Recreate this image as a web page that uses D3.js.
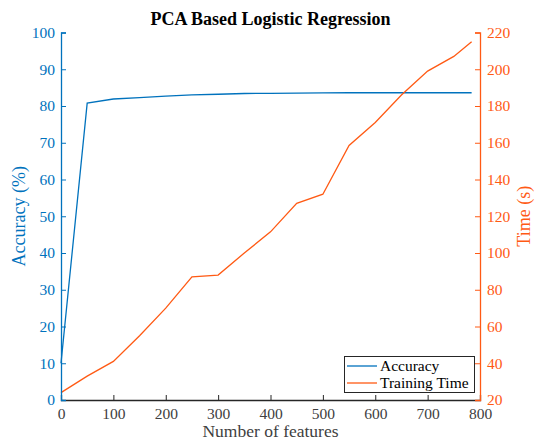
<!DOCTYPE html>
<html><head><meta charset="utf-8">
<script src="https://cdn.jsdelivr.net/npm/d3@7"></script>
<style>body{margin:0;background:#fff}svg{display:block}</style>
</head><body><svg id="c" width="535" height="441"></svg>
<script>
const features = [0,50,100,150,200,250,300,350,400,450,500,550,600,650,700,750,784];
const accuracy = [10,80.8,81.9,82.3,82.7,83.0,83.2,83.4,83.45,83.5,83.55,83.6,83.6,83.6,83.6,83.6,83.6];
const trainTime = [24,33,41,55,70,87,88,100,111.5,127,132,158.5,171,186,199,207,215];
const xTicks = [0,100,200,300,400,500,600,700,800];
const accTicks = [0,10,20,30,40,50,60,70,80,90,100];
const timeTicks = [20,40,60,80,100,120,140,160,180,200,220];
const title = "PCA Based Logistic Regression";
const xLabel = "Number of features";
const accLabel = "Accuracy (%)";
const timeLabel = "Time (s)";
const seriesNames = ["Accuracy","Training Time"];

const FONT = "'Liberation Serif', 'Times New Roman', serif";
const blue = "#0072BD", orange = "#FF5A14", dark = "#262626";
const L = 61, R = 480, T = 32.5, B = 400;
const svg = d3.select("#c").attr("font-family", FONT);
const x = d3.scaleLinear().domain([0,800]).range([L,R]);
const yA = d3.scaleLinear().domain([0,100]).range([B,T]);
const yT = d3.scaleLinear().domain([20,220]).range([B,T]);

// lines
svg.append("path").datum(features.map((f,i)=>[f,accuracy[i]]))
  .attr("fill","none").attr("stroke",blue).attr("stroke-width",1.3)
  .attr("d", d3.line().x(d=>x(d[0])).y(d=>yA(d[1])));
svg.append("path").datum(features.map((f,i)=>[f,trainTime[i]]))
  .attr("fill","none").attr("stroke",orange).attr("stroke-width",1.3)
  .attr("d", d3.line().x(d=>x(d[0])).y(d=>yT(d[1])));

// axes
function style(g, col, tcol){
  g.attr("font-family", FONT).attr("font-size", 15);
  g.select(".domain").attr("stroke",col).attr("stroke-width",1.3);
  g.selectAll(".tick line").attr("stroke",col);
  g.selectAll("text").attr("fill",tcol).attr("font-family",FONT).attr("font-size",15.5);
}
const gx = svg.append("g").attr("transform",`translate(0,${B})`)
  .call(d3.axisBottom(x).tickValues(xTicks).tickSize(-5).tickPadding(8).tickFormat(d3.format("d")));
style(gx, dark, "#404040");
const gl = svg.append("g").attr("transform",`translate(${L},0)`)
  .call(d3.axisLeft(yA).tickValues(accTicks).tickSize(-5).tickPadding(6).tickFormat(d3.format("d")));
style(gl, blue, blue);
const gr = svg.append("g").attr("transform",`translate(${R},0)`)
  .call(d3.axisRight(yT).tickValues(timeTicks).tickSize(-5).tickPadding(7).tickFormat(d3.format("d")));
style(gr, orange, orange);

// labels
svg.append("text").attr("x",(L+R)/2).attr("y",25).attr("text-anchor","middle")
  .attr("font-weight","bold").attr("font-size",18).attr("fill","#000").text(title);
svg.append("text").attr("x",(L+R)/2).attr("y",437).attr("text-anchor","middle")
  .attr("font-size",17.5).attr("fill","#404040").text(xLabel);
svg.append("text").attr("transform",`translate(25,${(T+B)/2}) rotate(-90)`).attr("text-anchor","middle")
  .attr("font-size",18).attr("fill",blue).text(accLabel);
svg.append("text").attr("transform",`translate(530,${(T+B)/2}) rotate(-90)`).attr("text-anchor","middle")
  .attr("font-size",18).attr("fill",orange).text(timeLabel);

// legend
const lg = svg.append("g");
lg.append("rect").attr("x",344.5).attr("y",356.5).attr("width",130).attr("height",36)
  .attr("fill","#fff").attr("stroke",dark).attr("stroke-width",1);
[blue,orange].forEach((c,i)=>{
  const yy = 366 + i*17;
  lg.append("line").attr("x1",347).attr("x2",377).attr("y1",yy).attr("y2",yy).attr("stroke",c).attr("stroke-width",1.3);
  lg.append("text").attr("x",380).attr("y",yy+5).attr("font-size",15.5).attr("fill","#000").text(seriesNames[i]);
});
</script></body></html>
